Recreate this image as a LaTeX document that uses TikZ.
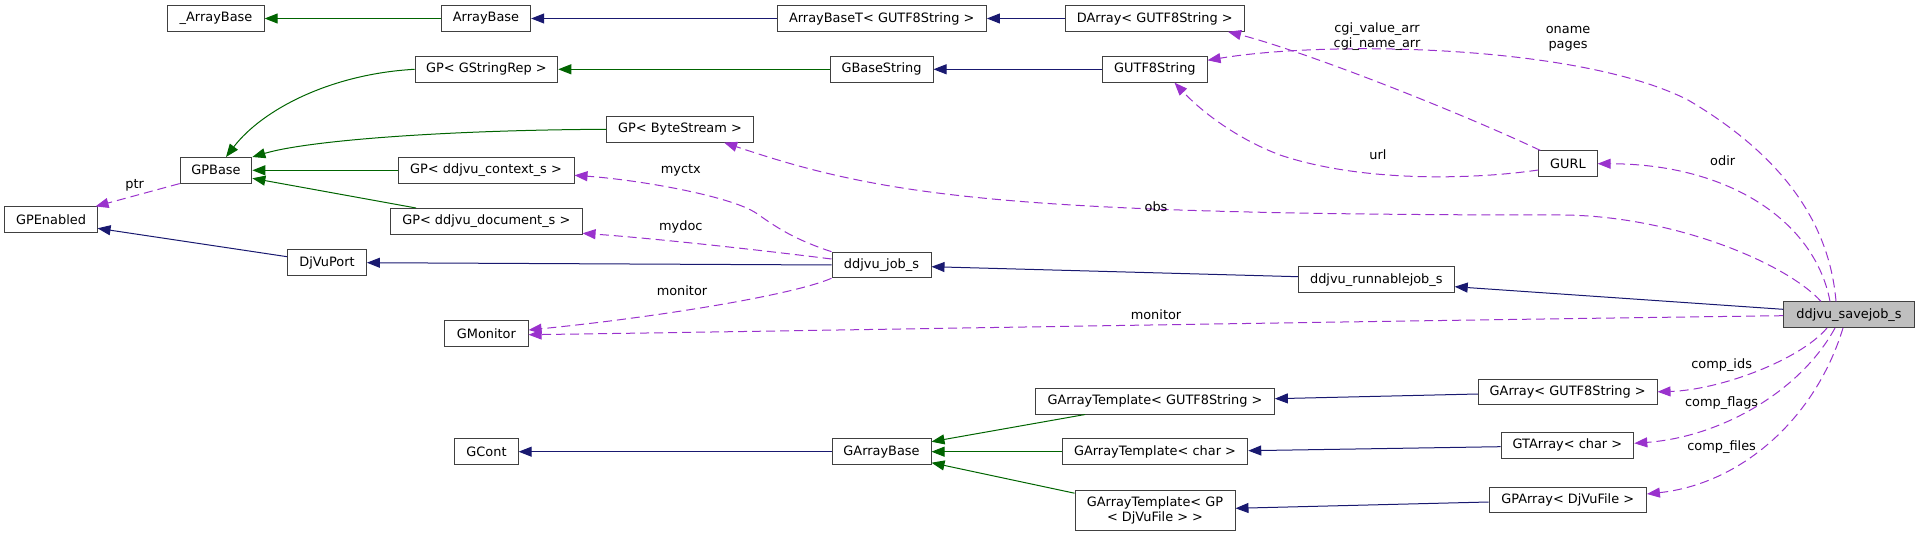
\documentclass[tikz,border=0pt]{standalone}
\usepackage{fontspec}
\setmainfont{DejaVu Sans}
\usetikzlibrary{arrows.meta}
\definecolor{mblue}{HTML}{191970}
\definecolor{dgreen}{HTML}{006400}
\definecolor{orchid}{HTML}{9A32CD}
\definecolor{boxline}{HTML}{404040}
\tikzset{
  cls/.style={draw=boxline, line width=1pt, fill=white, minimum height=25.6pt, inner xsep=0pt, inner ysep=0pt,
    font=\fontsize{12.9}{15}\selectfont, text=black},
  tip/.style={-{Triangle[length=13pt,width=10pt]}},
  pub/.style={tip, draw=mblue, line width=1pt},
  inh/.style={tip, draw=dgreen, line width=1pt},
  use/.style={tip, draw=orchid, line width=1pt, dash pattern=on 9pt off 5pt},
  lbl/.style={font=\fontsize{12.9}{15}\selectfont, inner sep=0pt, align=center, text=black}
}
\begin{document}
\begin{tikzpicture}[x=1pt,y=-1pt]
\useasboundingbox (0,0) rectangle (1920,537);
% nodes
\node[cls, minimum width=96.3pt] (abase) at (216,18.5) {\_ArrayBase};
\node[cls, minimum width=89.3pt] (arraybase) at (486,18.5) {ArrayBase};
\node[cls, minimum width=209.4pt] (arraybaset) at (881.7,18.5) {ArrayBaseT< GUTF8String >};
\node[cls, minimum width=178.5pt] (darray) at (1154.8,18.5) {DArray< GUTF8String >};
\node[cls, minimum width=142.7pt] (gpgsr) at (486.4,69.3) {GP< GStringRep >};
\node[cls, minimum width=103pt] (gbasestring) at (881.5,69.3) {GBaseString};
\node[cls, minimum width=104.3pt] (gutf8) at (1154.9,69.3) {GUTF8String};
\node[cls, minimum width=146.3pt] (gpbs) at (680,129.3) {GP< ByteStream >};
\node[cls, minimum width=58.3pt] (gurl) at (1568,163.7) {GURL};
\node[cls, minimum width=71.7pt] (gpbase) at (216,170.3) {GPBase};
\node[cls, minimum width=176pt] (gpctx) at (486,170.3) {GP< ddjvu\_context\_s >};
\node[cls, minimum width=92.1pt] (gpenabled) at (51,219.7) {GPEnabled};
\node[cls, minimum width=191.5pt] (gpdoc) at (486.3,221.3) {GP< ddjvu\_document\_s >};
\node[cls, minimum width=78.8pt] (djvuport) at (327,262.7) {DjVuPort};
\node[cls, minimum width=99pt] (job) at (881.5,265) {ddjvu\_job\_s};
\node[cls, minimum width=155.8pt] (runnable) at (1376.3,279.7) {ddjvu\_runnablejob\_s};
\node[cls, minimum width=131pt, fill={rgb,255:red,191;green,191;blue,191}] (savejob) at (1849,314.7) {ddjvu\_savejob\_s};
\node[cls, minimum width=83.3pt] (gmonitor) at (486.4,333.3) {GMonitor};
\node[cls, minimum width=178.7pt] (garrayu) at (1567.7,391.8) {GArray< GUTF8String >};
\node[cls, minimum width=238.7pt] (gatu) at (1155,401.2) {GArrayTemplate< GUTF8String >};
\node[cls, minimum width=132.8pt] (gtarray) at (1567.4,445.3) {GTArray< char >};
\node[cls, minimum width=157.4pt] (gpa) at (1567.7,500) {GPArray< DjVuFile >};
\node[cls, minimum width=63.3pt] (gcont) at (486.5,451.7) {GCont};
\node[cls, minimum width=99pt] (garraybase) at (881.5,451.7) {GArrayBase};
\node[cls, minimum width=185.5pt] (gatc) at (1155,451.7) {GArrayTemplate< char >};
\node[cls, minimum width=160pt, minimum height=39.6pt, align=center] (gatgp) at (1155,510.5) {GArrayTemplate< GP\\< DjVuFile > >};

% green inheritance
\draw[inh] (arraybase) -- (abase);
\draw[inh] (gbasestring) -- (gpgsr);
\draw[inh] (gpgsr.west) .. controls (330,74) and (262,110) .. ([xshift=10pt]gpbase.north);
\draw[inh] (gpbs.west) .. controls (450,130) and (310,140) .. (gpbase.north east);
\draw[inh] (gpctx) -- (gpbase);
\draw[inh] ([xshift=26pt]gpdoc.north west) -- ([yshift=-8pt]gpbase.east);
\draw[inh] ([xshift=50pt]gatu.south west) -- ([yshift=10pt]garraybase.east);
\draw[inh] (gatc) -- (garraybase);
\draw[inh] ([yshift=-3pt]gatgp.north west) -- ([yshift=-11pt]garraybase.east);

% blue inheritance
\draw[pub] (arraybaset) -- (arraybase);
\draw[pub] (darray) -- (arraybaset);
\draw[pub] (gutf8) -- (gbasestring);
\draw[pub] ([yshift=6pt]djvuport.west) -- ([yshift=-8.6pt]gpenabled.east);
\draw[pub] (job.west) -- (djvuport.east);
\draw[pub] ([yshift=3pt]runnable.west) -- ([yshift=-1.7pt]job.east);
\draw[pub] ([yshift=5.4pt]savejob.west) -- ([yshift=-7pt]runnable.east);
\draw[pub] (garraybase) -- (gcont);
\draw[pub] ([yshift=-2.2pt]garrayu.west) -- ([yshift=2.5pt]gatu.east);
\draw[pub] ([yshift=-1.4pt]gtarray.west) -- ([yshift=1pt]gatc.east);
\draw[pub] ([yshift=-2pt]gpa.west) -- ([yshift=2.2pt]gatgp.east);

% usage (dashed)
\draw[use] (gpbase.south west) -- ([xshift=-2pt]gpenabled.north east);
\node[lbl] (lptr) at (134.6,185) {ptr};

\draw[use] (job.north west) .. controls (790,238) and (772,224) .. (756,213) .. controls (730,196) and (640,180) .. ([yshift=-5pt]gpctx.east);
\node[lbl] (lmyctx) at (680.8,170.7) {myctx};

\draw[use] ([yshift=6pt]job.west) .. controls (760,250) and (650,238) .. ([yshift=-12pt]gpdoc.east);
\node[lbl] (lmydoc) at (680.8,226.7) {mydoc};

\draw[use] (job.south west) .. controls (790,296) and (650,318) .. ([yshift=3.3pt]gmonitor.east);
\node[lbl] (lmon1) at (682,290.7) {monitor};

\draw[use] ([yshift=-1pt]savejob.west) .. controls (1300,322) and (800,331) .. ([yshift=-1.4pt]gmonitor.east);
\node[lbl] (lmon2) at (1156,314.3) {monitor};

\draw[use] ([xshift=-28pt]savejob.north) .. controls (1785,262) and (1670,215) .. (1560,215) .. controls (1000,215) and (880,195) .. ([xshift=-29.5pt]gpbs.south east);
\node[lbl] (lobs) at (1156,206.7) {obs};

\draw[use] ([xshift=-19pt]savejob.north) .. controls (1815,222) and (1730,164) .. (gurl.east);
\node[lbl] (lodir) at (1722.7,160.7) {odir};

\draw[use] ([xshift=-13pt]savejob.north) .. controls (1830,230) and (1790,160) .. (1688,100) .. controls (1580,45) and (1330,40) .. ([yshift=9pt]gutf8.east);
\node[lbl] (loname) at (1568,39.2) {oname\\pages};

\draw[use] ([yshift=-6.3pt]gurl.west) .. controls (1470,180) and (1360,182) .. (1280,155) .. controls (1235,138) and (1200,110) .. ([xshift=19.6pt]gutf8.south);
\node[lbl] (lurl) at (1378,154.3) {url};

\draw[use] ([xshift=2pt]gurl.north west) .. controls (1450,108) and (1300,50) .. ([xshift=-16.5pt]darray.south east);
\node[lbl] (lcgi) at (1377,36.4) {cgi\_value\_arr\\cgi\_name\_arr};

\draw[use] ([xshift=-22pt]savejob.south) .. controls (1800,360) and (1720,390) .. (garrayu.east);
\node[lbl] (lids) at (1721.6,364.7) {comp\_ids};

\draw[use] ([xshift=-14pt]savejob.south) .. controls (1800,392) and (1720,437) .. ([yshift=2pt]gtarray.east);
\node[lbl] (lflags) at (1721.6,402.7) {comp\_flags};

\draw[use] ([xshift=-6pt]savejob.south) .. controls (1815,420) and (1740,484) .. ([yshift=6pt]gpa.east);
\node[lbl] (lfiles) at (1721.6,447.3) {comp\_files};
\end{tikzpicture}
\end{document}
